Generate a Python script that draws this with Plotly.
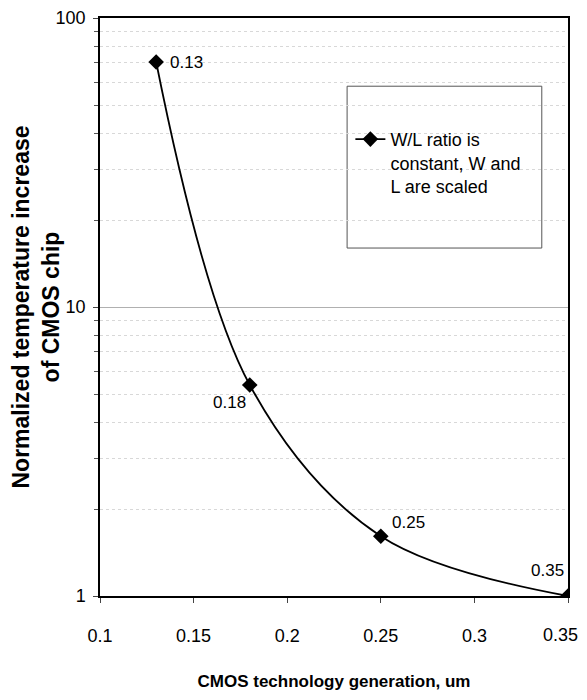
import math
import plotly.graph_objects as go

# Data
tech_gen = [0.13, 0.18, 0.25, 0.35]
temp_increase = [70.4, 5.37, 1.61, 1.0]
point_labels = ["0.13", "0.18", "0.25", "0.35"]
x_ticks = [0.1, 0.15, 0.2, 0.25, 0.3, 0.35]
x_tick_labels = ["0.1", "0.15", "0.2", "0.25", "0.3", "0.35"]
y_ticks = [1, 10, 100]
y_tick_labels = ["1", "10", "100"]
y_minor_ticks = [2, 3, 4, 5, 6, 7, 8, 9, 20, 30, 40, 50, 60, 70, 80, 90]
series_name = "W/L ratio is<br>constant, W and<br>L are scaled"

font_main = "Liberation Sans, Arial, sans-serif"

fig = go.Figure()
fig.add_trace(go.Scatter(
    x=tech_gen, y=temp_increase, mode="lines+markers",
    name=series_name,
    line=dict(color="black", width=1.8, shape="spline", smoothing=1.0),
    marker=dict(symbol="diamond", size=12, color="black"),
))

# point labels (pixel offsets from each marker)
offsets = [(30, 0), (-20, 17), (28, -14), (-21, -26)]
for x, y, t, (dx, dy) in zip(tech_gen, temp_increase, point_labels, offsets):
    fig.add_annotation(x=x, y=math.log10(y), text=t, showarrow=False,
                       xshift=dx, yshift=-dy,
                       font=dict(family=font_main, size=17, color="black"))

# the last x tick label sits at the page edge: draw it nudged inward so it stays visible
shown_tick_text = x_tick_labels[:-1] + [""]
fig.add_annotation(x=x_ticks[-1], xref="x", y=0, yref="paper", text=x_tick_labels[-1],
                   showarrow=False, xanchor="center", yanchor="middle",
                   xshift=-8, yshift=-39,
                   font=dict(family=font_main, size=18, color="black"))

fig.update_xaxes(
    range=[0.1, 0.35], tickvals=x_ticks, ticktext=shown_tick_text,
    showline=True, linecolor="black", linewidth=1.5, mirror=True,
    ticks="outside", ticklen=5, tickcolor="#444444",
    ticklabelstandoff=18, automargin=False,
    showgrid=False, zeroline=False,
    tickfont=dict(family=font_main, size=18, color="black"),
    title=dict(text="<b>CMOS technology generation, um</b>",
               font=dict(family=font_main, size=17, color="black"), standoff=30),
)
fig.update_yaxes(
    type="log", range=[0, 2], tickvals=y_ticks, ticktext=y_tick_labels,
    showline=True, linecolor="black", linewidth=1.5, mirror=True,
    ticks="outside", ticklen=5, tickcolor="#444444",
    ticklabelstandoff=4, automargin=False,
    showgrid=True, gridcolor="#b0b0b0", gridwidth=1,
    minor=dict(tickvals=y_minor_ticks, ticks="outside", ticklen=4, tickcolor="#555555",
               showgrid=True, gridcolor="#d8d8d8", griddash="dot", gridwidth=1),
    tickfont=dict(family=font_main, size=18, color="black"),
    title=dict(text="<b>Normalized temperature increase<br>of CMOS chip</b>",
               font=dict(family=font_main, size=23, color="black"), standoff=6),
)

# legend box
fig.add_shape(type="rect", xref="paper", yref="paper",
              x0=0.528, x1=0.944, y0=0.602, y1=0.882,
              line=dict(color="#555555", width=1), fillcolor="white", layer="below")

fig.update_layout(
    width=579, height=684,
    margin=dict(l=92, r=19, t=10, b=96),
    paper_bgcolor="white", plot_bgcolor="rgba(0,0,0,0)",
    showlegend=True,
    legend=dict(x=0.535, y=0.822, xanchor="left", yanchor="top",
                bgcolor="rgba(0,0,0,0)", borderwidth=0, valign="top",
                font=dict(family=font_main, size=18, color="black"),
                itemwidth=30, tracegroupgap=0),
)

fig.write_html("out.html")
